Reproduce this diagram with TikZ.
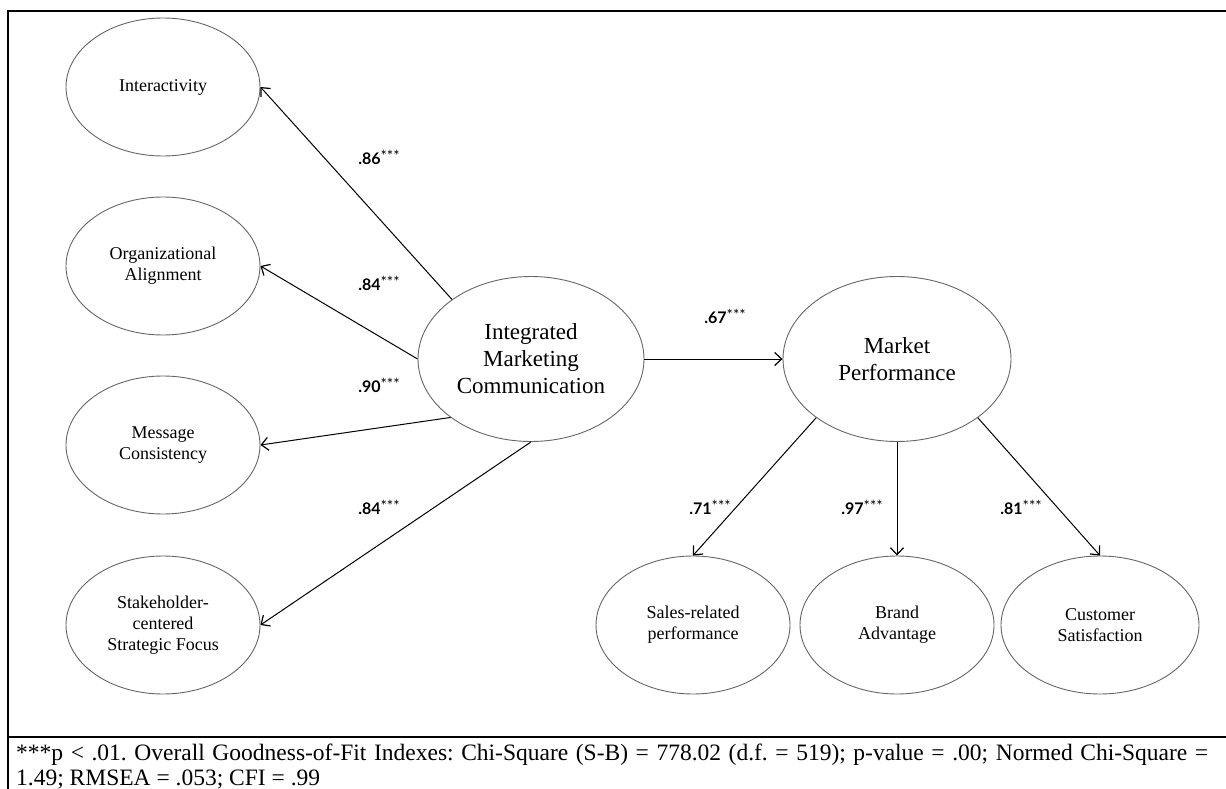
\documentclass[tikz,border=0pt]{standalone}
\usepackage{fontspec}
\setmainfont{Liberation Serif}
\newfontfamily\labfont{Lato}
\usetikzlibrary{shapes.geometric,arrows.meta}
\newcommand\coefl[1]{{\labfont\bfseries\fontsize{16}{17}\selectfont #1\raisebox{3pt}{\mdseries\fontsize{15}{15}\selectfont ***}}}
\tikzset{
  smallell/.style={ellipse, draw=black!60, line width=0.9pt, minimum width=194pt, minimum height=138pt, inner sep=0pt, align=center, font=\fontsize{18}{21}\selectfont},
  bigell/.style={ellipse, draw=black!60, line width=0.9pt, minimum width=226pt, minimum height=165pt, inner sep=0pt, align=center, font=\fontsize{23}{27}\selectfont},
  arr/.style={draw=black, line width=1pt, -{Straight Barb[length=7pt,width=13pt,line width=1.2pt]}},
  coef/.style={inner sep=0pt},
  frame/.style={line width=2pt, draw=black}
}
\begin{document}
\frenchspacing
\begin{tikzpicture}[x=1pt,y=-1pt]
\useasboundingbox (0,0) rectangle (1226,789);
\fill[white] (0,0) rectangle (1226,789);
% frame
\coordinate (fbl) at (8,789);
\coordinate (ftl) at (8,11);
\coordinate (ftr) at (1226,11);
\coordinate (fsl) at (8,737);
\coordinate (fsr) at (1226,737);
\draw[frame] (fbl) -- (ftl) -- (ftr);
\draw[frame] (fsl) -- (fsr);
% nodes
\node[smallell] (inter) at (163,87) {Interactivity};
\node[smallell] (org) at (163,266) {Organizational\\Alignment};
\node[smallell] (msg) at (163,445) {Message\\Consistency};
\node[smallell] (stake) at (163,625) {Stakeholder-\\centered\\Strategic Focus};
\node[bigell] (imc) at (531,359) {Integrated\\Marketing\\Communication};
\node[bigell, minimum width=228pt] (mp) at (897,359) {Market\\Performance};
\node[smallell] (sales) at (693,625) {Sales-related\\performance};
\node[smallell] (brand) at (897,625) {Brand\\Advantage};
\node[smallell, minimum width=198pt] (cs) at (1100,625) {Customer\\Satisfaction};
% arrows
\draw[arr] (imc.143) -- (inter.east);
\draw[arr] (imc.west) -- (org.east);
\draw[arr] (imc.216) -- (msg.east);
\draw[arr] (imc.south) -- (stake.east);
\draw[arr] (imc.east) -- (mp.west);
\draw[arr] (mp.216) -- (sales.north);
\draw[arr] (mp.south) -- (brand.north);
\draw[arr] (mp.324) -- (cs.north);
% coefficients
\node[coef] (c1) at (379,157) {\coefl{.86}};
\node[coef] (c2) at (379,283) {\coefl{.84}};
\node[coef] (c3) at (379,385) {\coefl{.90}};
\node[coef] (c4) at (379,507) {\coefl{.84}};
\node[coef] (c5) at (725,316) {\coefl{.67}};
\node[coef] (c6) at (710,507) {\coefl{.71}};
\node[coef] (c7) at (862,507) {\coefl{.97}};
\node[coef] (c8) at (1021,507) {\coefl{.81}};
% footer
\node[anchor=north west, inner sep=0pt, text width=1192pt, align=justify, font=\fontsize{23.5}{25}\selectfont] (foot) at (16,743.5)
{***p < .01. Overall Goodness-of-Fit Indexes: Chi-Square (S-B) = 778.02 (d.f. = 519); p-value = .00; Normed Chi-Square =\linebreak 1.49; RMSEA = .053; CFI = .99};
\end{tikzpicture}
\end{document}
